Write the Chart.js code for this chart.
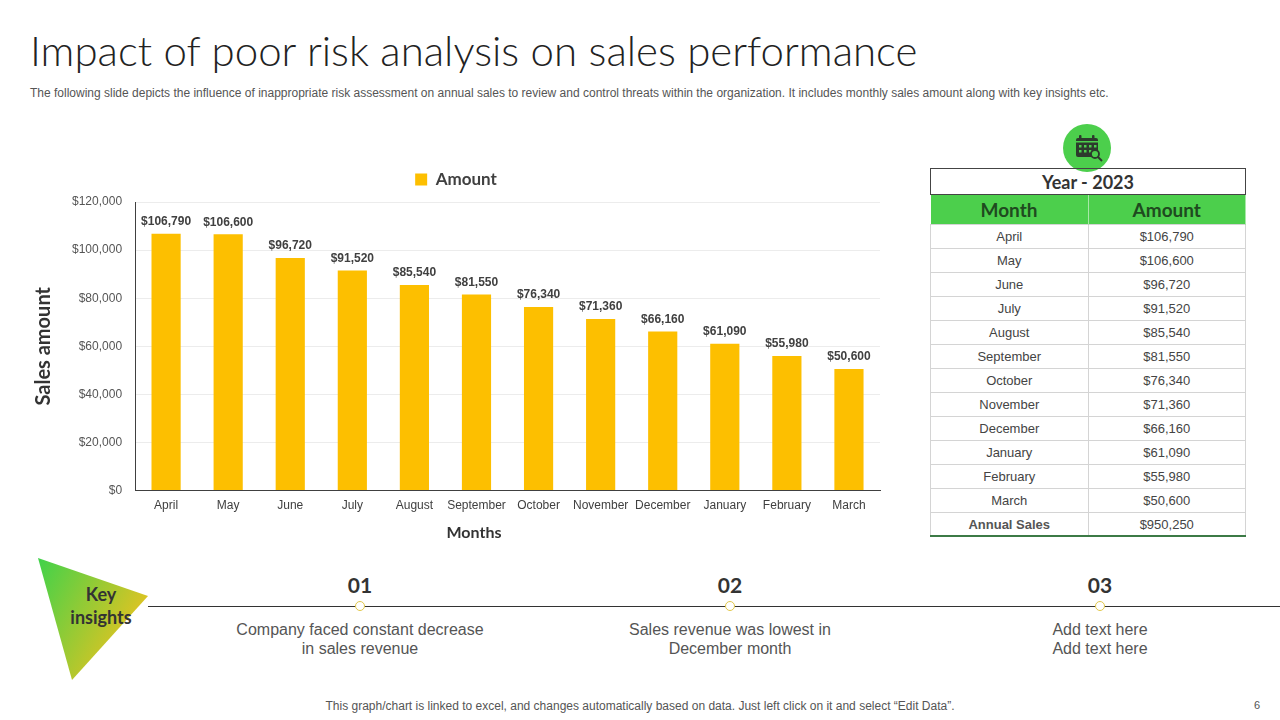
<!DOCTYPE html>
<html>
<head>
<meta charset="utf-8">
<script src="https://cdn.jsdelivr.net/npm/chart.js@4.4.1/dist/chart.umd.min.js"></script>
<style>
  html, body { margin: 0; padding: 0; background: #fff; }
  body { width: 1280px; height: 720px; position: relative; overflow: hidden; font-family: "Liberation Sans", Arial, sans-serif; }
  .title { position: absolute; left: 30px; top: 25px; font-family: "Lato", "Open Sans", sans-serif; font-weight: 300; font-size: 42px; color: #222; white-space: nowrap; }
  .subtitle { position: absolute; left: 30px; top: 86px; font-size: 12px; color: #555; white-space: nowrap; }
  #chartBox { position: absolute; left: 30px; top: 154px; width: 870px; height: 371px; }
  .xtitle { position: absolute; left: 374px; width: 200px; top: 522px; text-align: center; font-family: "Lato", sans-serif; font-weight: 700; font-size: 16px; color: #333; }
  .icon { position: absolute; left: 1063px; top: 124px; width: 48px; height: 48px; }
  table.sales { position: absolute; left: 930px; top: 168px; width: 316px; border-collapse: collapse; table-layout: fixed; }
  table.sales td { text-align: center; padding: 0; }
  table.sales tr.year td { height: 25px; border: 1px solid #444; font-family: "Lato", sans-serif; font-weight: 700; font-size: 18px; color: #333; }
  table.sales tr.head td { height: 29px; background: #4ccf4c; font-family: "Lato", sans-serif; font-weight: 700; font-size: 19px; color: #1f4a1f; border-right: 1px solid #a8e8a8; }
  table.sales tr.body td { height: 23px; border: 1px solid #d4d4d4; font-size: 13px; color: #444; }
  table.sales tr.total td { height: 22px; border: 1px solid #d4d4d4; border-bottom: 2px solid #3c7a46; font-size: 13px; color: #444; }
  table.sales tr.total td:first-child { font-weight: 700; color: #555; }
  .tri { position: absolute; left: 34px; top: 552px; width: 120px; height: 134px; }
  .key { position: absolute; left: 60px; top: 583px; width: 82px; text-align: center; font-family: "Lato", sans-serif; font-weight: 700; font-size: 18px; line-height: 23px; color: #333; }
  .line { position: absolute; left: 148px; top: 606px; width: 1132px; height: 1px; background: #333; }
  .dot { position: absolute; width: 8px; height: 8px; border: 1.5px solid #e2c84a; border-radius: 50%; background: #fff; top: 601px; }
  .num { position: absolute; top: 572px; width: 80px; text-align: center; font-family: "Lato", sans-serif; font-weight: 700; font-size: 21px; color: #333; }
  .txt { position: absolute; top: 620px; width: 300px; text-align: center; font-size: 16px; line-height: 19px; color: #555; }
  .foot { position: absolute; left: 0; width: 1280px; top: 699px; text-align: center; font-size: 12px; color: #555; }
  .page { position: absolute; left: 1254px; top: 699px; font-size: 11px; color: #555; }
</style>
</head>
<body>
<div class="title">Impact of poor risk analysis on sales performance</div>
<div class="subtitle">The following slide depicts the influence of inappropriate risk assessment on annual sales to review and control threats within the organization. It includes monthly sales amount along with key insights etc.</div>

<div id="chartBox"><canvas id="salesChart"></canvas></div>
<div class="xtitle">Months</div>

<svg class="icon" viewBox="0 0 48 48">
  <circle cx="24" cy="24" r="24" fill="#4ccf4c"/>
  <rect x="13" y="14" width="22" height="19" rx="2" fill="#2d3a2d"/>
  <rect x="16" y="11" width="2.5" height="5" rx="1" fill="#2d3a2d"/>
  <rect x="29" y="11" width="2.5" height="5" rx="1" fill="#2d3a2d"/>
  <rect x="13" y="17" width="22" height="1.5" fill="#4ccf4c"/>
  <g fill="#4ccf4c">
    <rect x="16" y="21" width="2.5" height="2.5"/><rect x="21" y="21" width="2.5" height="2.5"/><rect x="26" y="21" width="2.5" height="2.5"/><rect x="31" y="21" width="2.5" height="2.5"/>
    <rect x="16" y="26" width="2.5" height="2.5"/><rect x="21" y="26" width="2.5" height="2.5"/><rect x="26" y="26" width="2.5" height="2.5"/>
  </g>
  <circle cx="32" cy="30" r="4" fill="#4ccf4c" stroke="#2d3a2d" stroke-width="1.8"/>
  <line x1="35" y1="33" x2="39" y2="37" stroke="#2d3a2d" stroke-width="2"/>
</svg>

<table class="sales" id="salesTable"></table>

<svg class="tri" viewBox="0 0 120 134">
  <defs>
    <linearGradient id="tg" x1="0" y1="0" x2="1" y2="0.6">
      <stop offset="0" stop-color="#3fd24a"/>
      <stop offset="1" stop-color="#f0c21e"/>
    </linearGradient>
  </defs>
  <polygon points="4,6 114,44 38,128" fill="url(#tg)"/>
</svg>
<div class="key">Key<br>insights</div>
<div class="line"></div>

<div id="insights"></div>

<div class="foot">This graph/chart is linked to excel, and changes automatically based on data. Just left click on it and select “Edit Data”.</div>
<div class="page">6</div>

<script>
// ---- data ----
const months = ["April", "May", "June", "July", "August", "September", "October", "November", "December", "January", "February", "March"];
const amounts = [106790, 106600, 96720, 91520, 85540, 81550, 76340, 71360, 66160, 61090, 55980, 50600];
const yTicks = [0, 20000, 40000, 60000, 80000, 100000, 120000];
const insightNums = ["01", "02", "03"];
const insightTexts = [
  "Company faced constant decrease<br>in sales revenue",
  "Sales revenue was lowest in<br>December month",
  "Add text here<br>Add text here"
];
const insightX = [360, 730, 1100];

const money = v => "$" + v.toLocaleString("en-US");

// ---- table ----
const table = document.getElementById("salesTable");
let rows = '<tr class="year"><td colspan="2">Year - 2023</td></tr>';
rows += '<tr class="head"><td>Month</td><td>Amount</td></tr>';
months.forEach((m, i) => {
  rows += `<tr class="body"><td>${m}</td><td>${money(amounts[i])}</td></tr>`;
});
const annual = amounts.reduce((a, b) => a + b, 0);
rows += `<tr class="total"><td>Annual Sales</td><td>${money(annual)}</td></tr>`;
table.innerHTML = rows;

// ---- key insights ----
const ins = document.getElementById("insights");
insightNums.forEach((n, i) => {
  ins.innerHTML += `<div class="num" style="left:${insightX[i] - 40}px">${n}</div>`;
  ins.innerHTML += `<div class="dot" style="left:${insightX[i] - 5.5}px"></div>`;
  ins.innerHTML += `<div class="txt" style="left:${insightX[i] - 150}px">${insightTexts[i]}</div>`;
});

// ---- value labels above bars ----
const barLabels = {
  id: "barLabels",
  afterDatasetsDraw(chart) {
    const ctx = chart.ctx;
    const meta = chart.getDatasetMeta(0);
    ctx.save();
    ctx.font = "bold 12px 'Liberation Sans', Arial, sans-serif";
    ctx.fillStyle = "#404040";
    ctx.textAlign = "center";
    ctx.textBaseline = "bottom";
    meta.data.forEach((bar, i) => {
      ctx.fillText(money(amounts[i]), bar.x, bar.y - 6);
    });
    ctx.restore();
  }
};

// extra room between legend and plot
const legendGap = {
  id: "legendGap",
  beforeInit(chart) {
    const origFit = chart.legend.fit;
    chart.legend.fit = function () {
      origFit.bind(chart.legend)();
      this.height += 4;
    };
  }
};

Chart.defaults.font.family = "'Liberation Sans', Arial, sans-serif";
Chart.defaults.color = "#404040";

const ctx = document.getElementById("salesChart").getContext("2d");
new Chart(ctx, {
  type: "bar",
  data: {
    labels: months,
    datasets: [{
      label: "Amount",
      data: amounts,
      backgroundColor: "#fdbf00",
      categoryPercentage: 1,
      barPercentage: 0.47
    }]
  },
  options: {
    responsive: true,
    maintainAspectRatio: false,
    animation: false,
    layout: { padding: { left: 2, right: 20, top: 0, bottom: 4 } },
    plugins: {
      legend: {
        position: "top",
        labels: {
          boxWidth: 12,
          boxHeight: 12,
          padding: 17,
          color: "#404040",
          font: { size: 17, weight: "bold", family: "Lato, sans-serif" }
        }
      },
      tooltip: { enabled: false }
    },
    scales: {
      x: {
        grid: { display: false, drawTicks: false },
        border: { color: "#404040", width: 1 },
        ticks: { padding: 8, font: { size: 12 }, color: "#404040", maxRotation: 0, autoSkip: false }
      },
      y: {
        min: 0,
        max: 120000,
        afterBuildTicks(axis) { axis.ticks = yTicks.map(v => ({ value: v })); },
        grid: { color: "#ececec", drawTicks: false },
        border: { color: "#404040", width: 1 },
        ticks: { padding: 13, font: { size: 12 }, color: "#555", callback: v => money(v) },
        title: { display: true, text: "Sales amount", color: "#333", font: { size: 20, weight: "bold", family: "Lato, sans-serif" }, padding: { top: 0, bottom: 3 } }
      }
    }
  },
  plugins: [barLabels, legendGap]
});
</script>
</body>
</html>
